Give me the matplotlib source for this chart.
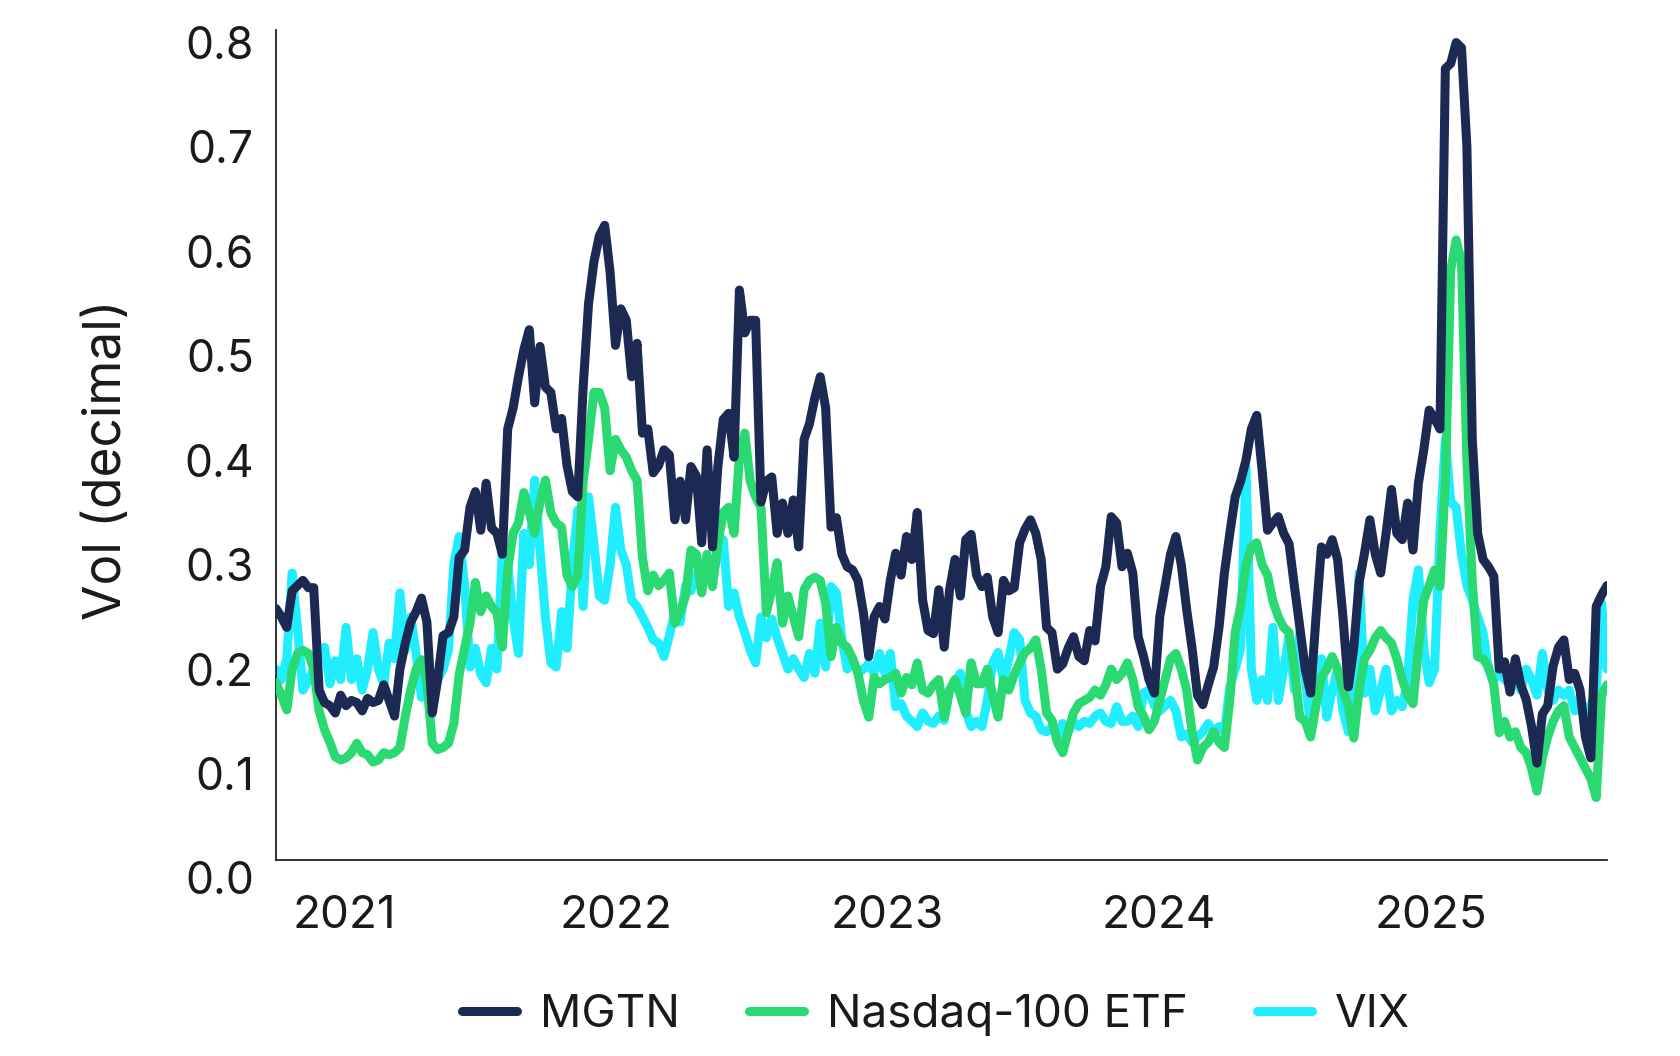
import numpy as np
import pandas as pd
import matplotlib
matplotlib.use("Agg")
import matplotlib.pyplot as plt
import matplotlib.dates as mdates
from matplotlib.ticker import FormatStrFormatter

# weekly-ish readings, Oct 2020 -> Aug 2025 (248 points each)
mgtn = [
    0.258, 0.25, 0.24, 0.275, 0.28, 0.285, 0.278, 0.278, 0.18, 0.168,
    0.165, 0.158, 0.175, 0.165, 0.17, 0.168, 0.16, 0.172, 0.168, 0.17,
    0.185, 0.17, 0.155, 0.2, 0.225, 0.245, 0.255, 0.268, 0.245, 0.158,
    0.19, 0.232, 0.235, 0.25, 0.307, 0.314, 0.355, 0.37, 0.333, 0.378,
    0.335, 0.33, 0.31, 0.43, 0.45, 0.48, 0.506, 0.525, 0.455, 0.509,
    0.47, 0.465, 0.43, 0.44, 0.395, 0.37, 0.365, 0.47, 0.55, 0.59,
    0.615, 0.625, 0.58, 0.51, 0.545, 0.534, 0.48, 0.512, 0.426, 0.43,
    0.388, 0.395, 0.41, 0.405, 0.343, 0.38, 0.343, 0.394, 0.385, 0.321,
    0.41, 0.317, 0.394, 0.439, 0.445, 0.403, 0.563, 0.522, 0.534, 0.534,
    0.36, 0.38, 0.384, 0.33, 0.359, 0.33, 0.362, 0.317, 0.42, 0.435,
    0.46, 0.48, 0.45, 0.336, 0.345, 0.31, 0.298, 0.295, 0.285, 0.254,
    0.212, 0.25, 0.26, 0.248, 0.285, 0.311, 0.29, 0.327, 0.305, 0.35,
    0.266, 0.237, 0.234, 0.276, 0.221, 0.276, 0.305, 0.27, 0.324, 0.329,
    0.29, 0.279, 0.288, 0.25, 0.235, 0.285, 0.275, 0.278, 0.321, 0.334,
    0.343, 0.33, 0.305, 0.24, 0.235, 0.2, 0.205, 0.22, 0.231, 0.212,
    0.208, 0.237, 0.227, 0.279, 0.298, 0.346, 0.34, 0.298, 0.311, 0.292,
    0.231, 0.212, 0.19, 0.177, 0.25, 0.28, 0.31, 0.327, 0.3, 0.257,
    0.22, 0.175, 0.166, 0.185, 0.202, 0.24, 0.292, 0.33, 0.365, 0.38,
    0.40, 0.43, 0.443, 0.39, 0.333, 0.34, 0.346, 0.33, 0.32, 0.279,
    0.24, 0.2, 0.177, 0.25, 0.317, 0.31, 0.324, 0.305, 0.25, 0.183,
    0.22, 0.283, 0.311, 0.343, 0.31, 0.292, 0.33, 0.372, 0.33, 0.324,
    0.359, 0.314, 0.378, 0.41, 0.448, 0.44, 0.43, 0.775, 0.78, 0.80,
    0.795, 0.70, 0.42, 0.33, 0.305, 0.298, 0.289, 0.20, 0.207, 0.178,
    0.21, 0.185, 0.171, 0.145, 0.11, 0.157, 0.165, 0.203, 0.221, 0.228,
    0.19, 0.196, 0.18, 0.135, 0.115, 0.26, 0.271, 0.28,
]

nasdaq = [
    0.187, 0.175, 0.161, 0.2, 0.215, 0.218, 0.215, 0.2, 0.16, 0.142,
    0.13, 0.116, 0.113, 0.115, 0.12, 0.129, 0.12, 0.118, 0.111, 0.113,
    0.12, 0.118, 0.12, 0.125, 0.155, 0.18, 0.2, 0.209, 0.187, 0.129,
    0.123, 0.125, 0.129, 0.148, 0.195, 0.22, 0.244, 0.283, 0.255, 0.27,
    0.26, 0.254, 0.221, 0.295, 0.33, 0.34, 0.369, 0.35, 0.33, 0.36,
    0.381, 0.35, 0.34, 0.336, 0.29, 0.279, 0.29, 0.38, 0.42, 0.465,
    0.465, 0.45, 0.39, 0.42, 0.41, 0.403, 0.39, 0.381, 0.307, 0.275,
    0.29, 0.28, 0.285, 0.292, 0.244, 0.255, 0.27, 0.314, 0.31, 0.273,
    0.31, 0.279, 0.32, 0.35, 0.355, 0.33, 0.403, 0.426, 0.38, 0.365,
    0.355, 0.254, 0.276, 0.302, 0.244, 0.27, 0.25, 0.231, 0.276, 0.285,
    0.288, 0.285, 0.263, 0.212, 0.24, 0.225, 0.221, 0.21, 0.196, 0.17,
    0.154, 0.192, 0.186, 0.19, 0.192, 0.196, 0.177, 0.192, 0.185, 0.206,
    0.18, 0.177, 0.185, 0.19, 0.154, 0.18, 0.19, 0.175, 0.158, 0.206,
    0.186, 0.186, 0.2, 0.175, 0.154, 0.19, 0.18, 0.195, 0.206, 0.216,
    0.22, 0.228, 0.2, 0.158, 0.151, 0.13, 0.12, 0.14, 0.158, 0.167,
    0.17, 0.173, 0.18, 0.175, 0.185, 0.2, 0.19, 0.196, 0.206, 0.19,
    0.164, 0.155, 0.142, 0.15, 0.17, 0.19, 0.21, 0.215, 0.2, 0.18,
    0.14, 0.113, 0.125, 0.13, 0.14, 0.13, 0.125, 0.17, 0.235, 0.26,
    0.30, 0.317, 0.321, 0.30, 0.29, 0.265, 0.25, 0.24, 0.235, 0.2,
    0.154, 0.15, 0.135, 0.165, 0.192, 0.2, 0.212, 0.2, 0.18, 0.165,
    0.134, 0.18, 0.21, 0.218, 0.23, 0.237, 0.23, 0.225, 0.21, 0.19,
    0.175, 0.167, 0.22, 0.266, 0.28, 0.295, 0.279, 0.38, 0.582, 0.611,
    0.59, 0.40, 0.283, 0.212, 0.21, 0.202, 0.185, 0.139, 0.15, 0.135,
    0.14, 0.125, 0.12, 0.105, 0.083, 0.115, 0.135, 0.15, 0.16, 0.165,
    0.135, 0.125, 0.115, 0.105, 0.095, 0.077, 0.175, 0.185,
]

vix = [
    0.2, 0.19, 0.21, 0.292, 0.238, 0.18, 0.19, 0.2, 0.215, 0.221,
    0.186, 0.208, 0.19, 0.24, 0.19, 0.21, 0.18, 0.2, 0.235, 0.2,
    0.186, 0.225, 0.21, 0.273, 0.218, 0.25, 0.215, 0.173, 0.18, 0.177,
    0.19, 0.2, 0.218, 0.301, 0.327, 0.28, 0.202, 0.22, 0.195, 0.187,
    0.22, 0.2, 0.314, 0.3, 0.25, 0.215, 0.33, 0.3, 0.381, 0.314,
    0.25, 0.206, 0.202, 0.255, 0.22, 0.3, 0.352, 0.26, 0.365, 0.32,
    0.27, 0.266, 0.3, 0.355, 0.314, 0.3, 0.266, 0.26, 0.25, 0.24,
    0.228, 0.225, 0.212, 0.232, 0.255, 0.245, 0.28, 0.275, 0.29, 0.3,
    0.305, 0.29, 0.31, 0.324, 0.26, 0.273, 0.25, 0.235, 0.218, 0.206,
    0.25, 0.23, 0.248, 0.23, 0.215, 0.2, 0.21, 0.2, 0.192, 0.215,
    0.196, 0.244, 0.202, 0.279, 0.273, 0.23, 0.2, 0.21, 0.196, 0.2,
    0.205, 0.196, 0.215, 0.196, 0.215, 0.164, 0.167, 0.155, 0.15, 0.145,
    0.158, 0.15, 0.148, 0.155, 0.151, 0.18, 0.187, 0.196, 0.16, 0.145,
    0.15, 0.145, 0.17, 0.206, 0.216, 0.19, 0.21, 0.235, 0.228, 0.17,
    0.158, 0.155, 0.142, 0.14, 0.145, 0.135, 0.148, 0.14, 0.15, 0.145,
    0.15, 0.148, 0.155, 0.158, 0.15, 0.148, 0.164, 0.15, 0.15, 0.155,
    0.145, 0.177, 0.18, 0.165, 0.16, 0.165, 0.17, 0.16, 0.135, 0.138,
    0.13, 0.135, 0.14, 0.148, 0.14, 0.145, 0.14, 0.183, 0.2, 0.22,
    0.394, 0.2, 0.17, 0.19, 0.17, 0.24, 0.17, 0.2, 0.232, 0.18,
    0.235, 0.19, 0.145, 0.19, 0.21, 0.154, 0.18, 0.2, 0.16, 0.14,
    0.18, 0.292, 0.177, 0.2, 0.16, 0.18, 0.2, 0.16, 0.17, 0.164,
    0.19, 0.266, 0.295, 0.22, 0.187, 0.2, 0.33, 0.42, 0.36, 0.355,
    0.31, 0.28, 0.266, 0.25, 0.235, 0.2, 0.19, 0.196, 0.19, 0.186,
    0.19, 0.18, 0.2, 0.19, 0.175, 0.215, 0.18, 0.17, 0.18, 0.175,
    0.18, 0.16, 0.17, 0.16, 0.165, 0.18, 0.263, 0.2,
]

labels = ["MGTN", "Nasdaq-100 ETF", "VIX"]
colors = ["#1c2a53", "#2bd972", "#20eeff"]
yticks = [0.0, 0.1, 0.2, 0.3, 0.4, 0.5, 0.6, 0.7, 0.8]

dates = pd.date_range("2020-10-01", "2025-08-26", periods=len(mgtn))

plt.rcParams['font.family'] = ['Inter', 'DejaVu Sans']

W, H = 1680, 1056
fig = plt.figure(figsize=(W / 100, H / 100), dpi=100)
ax = fig.add_axes([276 / W, 1 - 878 / H, (1607 - 276) / W, (878 - 30) / H])

lw = 6.5
kw = dict(lw=lw, solid_joinstyle='round', solid_capstyle='round')
l_vix, = ax.plot(dates, vix, color=colors[2], zorder=2, **kw)
l_nas, = ax.plot(dates, nasdaq, color=colors[1], zorder=3, **kw)
l_mg, = ax.plot(dates, mgtn, color=colors[0], zorder=4, **kw)

ybot = 0.0172
ax.set_ylim(0, 0.812)
ax.set_xlim(dates[0], dates[-1])
for s in ['top', 'right']:
    ax.spines[s].set_visible(False)
ax.spines['bottom'].set_position(('data', ybot))
ax.spines['left'].set_bounds(ybot, 0.812)
for s in ['left', 'bottom']:
    ax.spines[s].set_linewidth(1.3)
    ax.spines[s].set_color('#222222')

ax.set_yticks(yticks)
ax.yaxis.set_major_formatter(FormatStrFormatter('%.1f'))
ax.xaxis.set_major_locator(mdates.YearLocator())
ax.xaxis.set_major_formatter(mdates.DateFormatter('%Y'))
ax.tick_params(axis='y', length=0, labelsize=32, pad=16, labelcolor='#1a1a1a')
ax.tick_params(axis='x', length=0, labelsize=33, pad=25, labelcolor='#1a1a1a')

ax.set_ylabel("Vol (decimal)", fontsize=37, color='#1a1a1a')
ax.yaxis.set_label_coords(-0.108, 0.493)

fig.legend([l_mg, l_nas, l_vix], labels, loc='center', bbox_to_anchor=(936 / W, 1 - 1015 / H),
           ncol=3, frameon=False, fontsize=33, handlelength=1.2, handletextpad=0.5,
           columnspacing=1.5, labelcolor='#1a1a1a')

fig.savefig("out.png", dpi=100)
